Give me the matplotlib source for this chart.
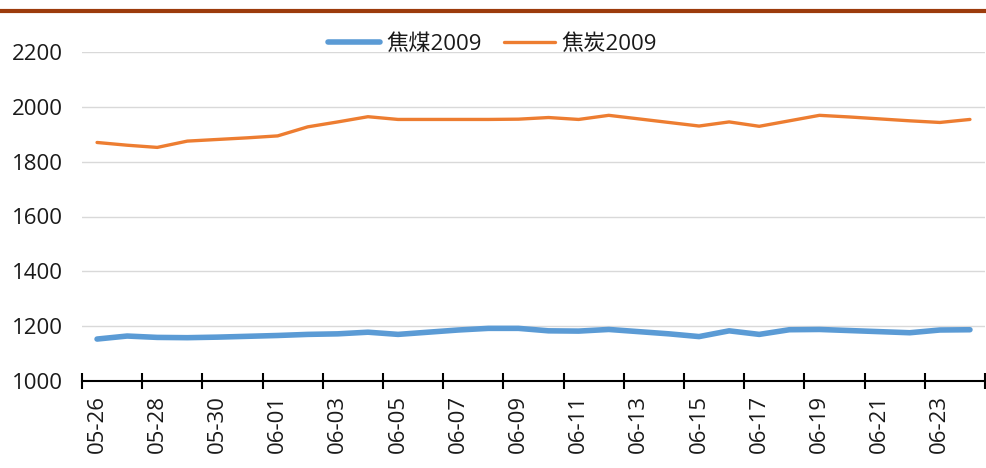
import matplotlib
matplotlib.use("Agg")
import matplotlib.pyplot as plt
from matplotlib.lines import Line2D
import numpy as np

plt.rcParams['font.family'] = ['Open Sans', 'Noto Sans CJK SC', 'DejaVu Sans']

dates = ["05-26", "05-27", "05-28", "05-29", "05-30", "05-31",
         "06-01", "06-02", "06-03", "06-04", "06-05", "06-06",
         "06-07", "06-08", "06-09", "06-10", "06-11", "06-12",
         "06-13", "06-14", "06-15", "06-16", "06-17", "06-18",
         "06-19", "06-20", "06-21", "06-22", "06-23", "06-24"]

coking_coal = [1153, 1164, 1159, 1158, 1160, 1163, 1166, 1170, 1172, 1178,
               1170, 1178, 1186, 1192, 1192, 1183, 1182, 1188, 1180, 1172,
               1162, 1183, 1170, 1187, 1188, 1184, 1180, 1176, 1186, 1187]

coke = [1870, 1860, 1852, 1875, 1881, 1887, 1894, 1927, 1945, 1964,
        1954, 1954, 1954, 1954, 1955, 1961, 1954, 1969, 1956, 1943,
        1930, 1945, 1929, 1949, 1969, 1963, 1956, 1949, 1943, 1954]

series_names = ["焦煤2009", "焦炭2009"]
yticks = [1000, 1200, 1400, 1600, 1800, 2000, 2200]

fig = plt.figure(figsize=(9.86, 4.68), dpi=100)
ax = fig.add_axes([82/986, 1 - 381/468, 903/986, 329/468])

x = np.arange(len(dates))
ax.plot(x, coking_coal, color='#5B9BD5', lw=4.0, solid_capstyle='round',
        solid_joinstyle='round', label=series_names[0], zorder=3)
ax.plot(x, coke, color='#ED7D31', lw=2.4, solid_capstyle='round',
        solid_joinstyle='round', label=series_names[1], zorder=3)

ax.set_xlim(-0.5, len(dates) - 0.5)
ax.set_ylim(1000, 2200)
ax.set_yticks(yticks)
ax.set_yticklabels([str(v) for v in yticks])
ax.grid(axis='y', color='#D9D9D9', lw=1.0)
ax.set_axisbelow(True)

ax.set_xticks(x[::2])
ax.set_xticklabels(dates[::2], rotation=90)
ax.set_xticks(np.arange(-0.5, len(dates), 2), minor=True)
ax.tick_params(axis='x', which='major', length=0, pad=10, labelsize=16, colors='#1a1a1a')
ax.tick_params(axis='x', which='minor', direction='inout', length=11, width=1.5, color='black')
ax.tick_params(axis='y', length=0, pad=14, labelsize=16, colors='#1a1a1a')

for s in ['left', 'right', 'top']:
    ax.spines[s].set_visible(False)
ax.spines['bottom'].set_color('black')
ax.spines['bottom'].set_linewidth(1.5)

leg = ax.legend(loc='center', bbox_to_anchor=(0.455, 1.022), ncol=2, frameon=False,
                fontsize=16, handlelength=2.3, handletextpad=0.3, columnspacing=1.0,
                borderaxespad=0)
for t in leg.get_texts():
    t.set_color('#1a1a1a')

fig.add_artist(Line2D([0, 1], [1 - 11.3/468, 1 - 11.3/468], color='#9C3B0C', lw=3.0,
                      transform=fig.transFigure))

fig.savefig('out.png', dpi=100)
